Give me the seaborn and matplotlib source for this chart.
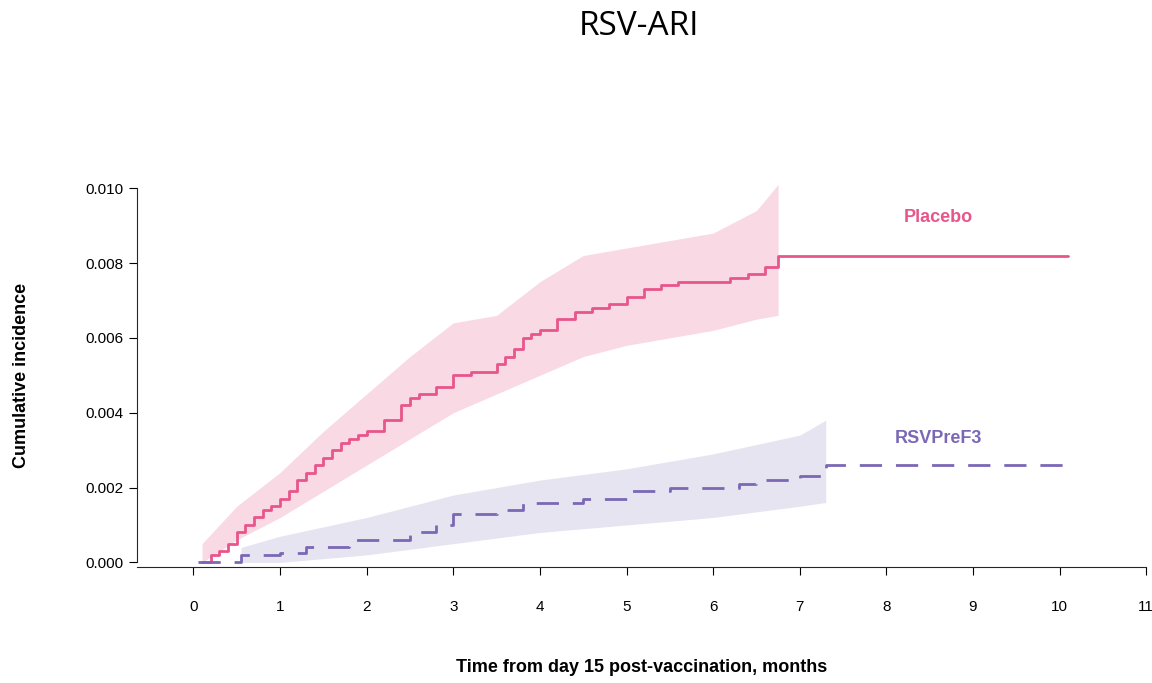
import numpy as np
import seaborn as sns
import matplotlib.pyplot as plt

sns.set_style("ticks")
plt.rcParams['font.family'] = ['Liberation Sans', 'DejaVu Sans']
plt.rcParams['text.color'] = 'black'
plt.rcParams['axes.labelcolor'] = 'black'
plt.rcParams['xtick.color'] = 'black'
plt.rcParams['ytick.color'] = 'black'

# Placebo step curve (months, cumulative incidence)
plac_t = [0.1, 0.2, 0.3, 0.4, 0.5, 0.6, 0.7, 0.8, 0.9, 1.0, 1.1, 1.2, 1.3, 1.4, 1.5, 1.6, 1.7, 1.8, 1.9,
          2.0, 2.2, 2.4, 2.5, 2.6, 2.8, 3.0, 3.2, 3.4, 3.5, 3.6, 3.7, 3.8, 3.9, 4.0, 4.2, 4.4, 4.6, 4.8,
          5.0, 5.2, 5.4, 5.6, 6.0, 6.2, 6.4, 6.6, 6.75, 10.1]
plac_y = [0.0, 0.0002, 0.0003, 0.0005, 0.0008, 0.0010, 0.0012, 0.0014, 0.0015, 0.0017, 0.0019, 0.0022,
          0.0024, 0.0026, 0.0028, 0.0030, 0.0032, 0.0033, 0.0034, 0.0035, 0.0038, 0.0042, 0.0044, 0.0045,
          0.0047, 0.0050, 0.0051, 0.0051, 0.0053, 0.0055, 0.0057, 0.0060, 0.0061, 0.0062, 0.0065, 0.0067,
          0.0068, 0.0069, 0.0071, 0.0073, 0.0074, 0.0075, 0.0075, 0.0076, 0.0077, 0.0079, 0.0082, 0.0082]
plac_ci_t = [0.1, 0.5, 1.0, 1.5, 2.0, 2.5, 3.0, 3.5, 4.0, 4.5, 5.0, 5.5, 6.0, 6.5, 6.75]
plac_lo = [0.0, 0.0006, 0.0012, 0.0019, 0.0026, 0.0033, 0.0040, 0.0045, 0.0050, 0.0055, 0.0058, 0.0060, 0.0062, 0.0065, 0.0066]
plac_hi = [0.0005, 0.0015, 0.0024, 0.0035, 0.0045, 0.0055, 0.0064, 0.0066, 0.0075, 0.0082, 0.0084, 0.0086, 0.0088, 0.0094, 0.0101]

# RSVPreF3 arm
rsv_t = [0.05, 0.55, 1.0, 1.3, 1.8, 2.5, 2.8, 3.0, 3.5, 3.8, 4.5, 5.0, 5.5, 6.3, 6.5, 7.0, 7.3, 10.1]
rsv_y = [0.0, 0.0002, 0.00025, 0.0004, 0.0006, 0.0008, 0.0010, 0.0013, 0.0014, 0.0016, 0.0017, 0.0019,
         0.0020, 0.0021, 0.0022, 0.0023, 0.0026, 0.0026]
rsv_ci_t = [0.55, 1.0, 2.0, 3.0, 4.0, 5.0, 6.0, 7.0, 7.3]
rsv_lo = [0.0, 0.0, 0.0002, 0.0005, 0.0008, 0.0010, 0.0012, 0.0015, 0.0016]
rsv_hi = [0.0004, 0.0007, 0.0012, 0.0018, 0.0022, 0.0025, 0.0029, 0.0034, 0.0038]

pink = "#E8558B"
purple = "#7B68B5"

fig, ax = plt.subplots(figsize=(11.52, 6.83), dpi=100)
fig.subplots_adjust(left=0.119, right=0.995, top=0.73, bottom=0.17)

ax.fill_between(plac_ci_t, plac_lo, plac_hi, color="#F9D9E3", lw=0)
ax.fill_between(rsv_ci_t, rsv_lo, rsv_hi, color="#E7E4F2", lw=0)
sns.lineplot(x=plac_t, y=plac_y, drawstyle="steps-post", color=pink, lw=2, ax=ax)
sns.lineplot(x=rsv_t, y=rsv_y, drawstyle="steps-post", color=purple, lw=2, ax=ax)
ax.lines[-1].set_dashes([8, 5])

ax.text(8.6, 0.0091, "Placebo", color=pink, fontsize=13, fontweight="bold", ha="center")
ax.text(8.6, 0.0032, "RSVPreF3", color=purple, fontsize=13, fontweight="bold", ha="center")

ax.set_xlim(-0.65, 11.0)
ax.set_ylim(-0.00012, 0.0101)
ax.set_xticks(range(0, 12))
ax.set_yticks([0.0, 0.002, 0.004, 0.006, 0.008, 0.010])
ax.set_yticklabels(["0.000", "0.002", "0.004", "0.006", "0.008", "0.010"])
ax.tick_params(labelsize=11, length=6)
ax.tick_params(axis='x', pad=18)
ax.spines['left'].set_bounds(0.0, 0.010)
sns.despine(ax=ax)
ax.set_xlabel("Time from day 15 post-vaccination, months", fontsize=13, fontweight="bold", labelpad=32)
ax.set_ylabel("Cumulative incidence", fontsize=13, fontweight="bold", labelpad=40)
fig.suptitle("RSV-ARI", fontsize=24, x=0.555, y=0.985, family=["Open Sans", "DejaVu Sans"])

fig.savefig("out.png", dpi=100)
